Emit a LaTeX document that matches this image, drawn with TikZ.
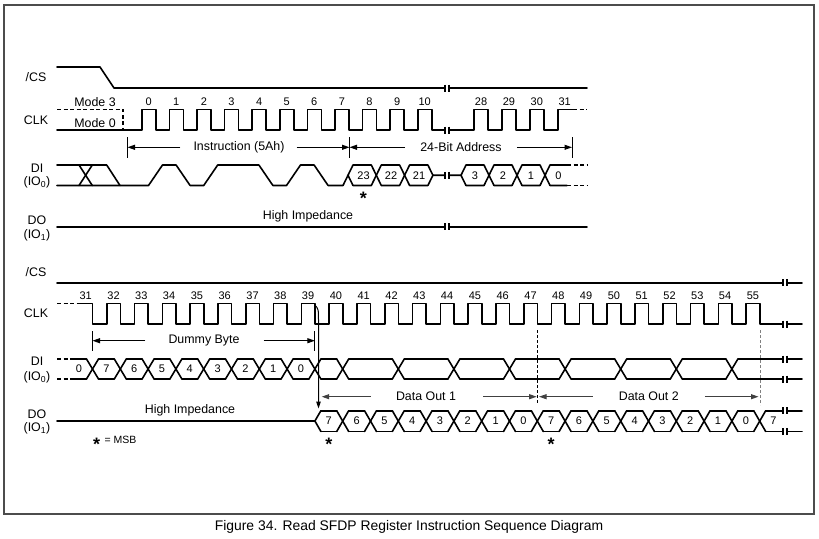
\documentclass[tikz,border=0pt]{standalone}
\usepackage{fontspec}
\setmainfont{Liberation Sans}
\usetikzlibrary{arrows.meta}
\begin{document}
\begin{tikzpicture}[x=1pt,y=-1pt,
  sig/.style={line width=1.6pt, line cap=round, line join=round},
  dsig/.style={line width=1.6pt, dash pattern=on 4pt off 2.5pt},
  brkmark/.style={line width=1.1pt},
  lbl/.style={font=\fontsize{12.4}{14}\selectfont, inner sep=0pt},
  num/.style={font=\fontsize{11}{13}\selectfont, inner sep=0pt},
  small/.style={font=\fontsize{10.5}{12}\selectfont, inner sep=0pt},
  dimline/.style={line width=1pt},
  dimarr/.style={line width=1pt, -{Triangle[length=7.5pt,width=5pt]}},
  grayarr/.style={dimarr, black!75},
  starmark/.style={font=\bfseries\fontsize{18}{18}\selectfont, inner sep=0pt, yshift=-4pt},
]
\useasboundingbox (0,0) rectangle (819,538);
% frame and caption
\draw[line width=2pt, black!70] (3.7,5) rectangle (814,514);
\node[font=\fontsize{13.9}{16}\selectfont, inner sep=0pt] (caption) at (409,527) {Figure 34. Read SFDP Register Instruction Sequence Diagram};

% ================= TOP =================
\node[lbl] (cs1) at (36,77.5) {/CS};
\node[lbl] (clk1) at (36,120) {CLK};
\node[lbl] (di1) at (37,168) {DI};
\node[lbl] (io0a) at (37,182.5) {(IO\textsubscript{0})};
\node[lbl] (do1) at (37,220) {DO};
\node[lbl] (io1a) at (37,235) {(IO\textsubscript{1})};

% /CS
\draw[sig] (57,67) -- (100,67) -- (114,88) -- (445,88);
\draw[sig] (449,88) -- (587,88);

% CLK
\node[lbl] (mode3) at (95,102) {Mode 3};
\node[lbl] (mode0) at (95,123) {Mode 0};
\draw[dsig] (57,109.3) -- (123,109.3) -- (123,130);
\draw[sig] (57,130) foreach \n in {0,...,10} { -- (141.7+27.6*\n,130) -- (141.7+27.6*\n,109.3) -- (155.7+27.6*\n,109.3) -- (155.7+27.6*\n,130) } -- (445,130);
\draw[sig] (449,130) foreach \n in {0,1,2} { -- (474+27.9*\n,130) -- (474+27.9*\n,109.3) -- (488+27.9*\n,109.3) -- (488+27.9*\n,130) } -- (557.7,130) -- (557.7,109.3) -- (573,109.3);
\draw[dsig] (573,109.3) -- (587,109.3);
\foreach \n in {0,...,10} \node[num] (ct\n) at (148.7+27.6*\n,102) {\n};
\foreach \n in {28,...,31} \node[num] (ct\n) at (481+27.9*\n-781.2,102) {\n};

% Instruction / address dimension
\coordinate (ta) at (127.5,147.3);
\coordinate (tb) at (349.5,147.3);
\coordinate (tc) at (572,147.3);
\foreach \c in {ta,tb,tc} \draw[dimline] ([yshift=10.3pt]\c) -- ([yshift=-10.7pt]\c);
\node[lbl] (ins) at (239,147.3) {Instruction (5Ah)};
\node[lbl] (addr) at (461,147.3) {24-Bit Address};
\draw[dimarr] ([xshift=-13pt]ins.west) -- (ta);
\draw[dimarr] ([xshift=12pt]ins.east) -- (tb);
\draw[dimarr] ([xshift=-15pt]addr.west) -- (tb);
\draw[dimarr] ([xshift=15pt]addr.east) -- (tc);

% DI (instruction 5Ah then address)
\draw[sig] (57,165) -- (106.7,165) -- (120,185.5);
\draw[sig] (79,165) -- (92.3,185.5);
\draw[sig] (79,185.5) -- (92.3,165);
\draw[sig] (57,185.5) -- (148.5,185.5) -- (162.5,165) -- (176.1,165) -- (190.1,185.5)
  -- (203.7,185.5) -- (217.7,165) -- (258.9,165) -- (272.9,185.5) -- (286.5,185.5)
  -- (300.5,165) -- (314.1,165) -- (328.1,185.5) -- (343,185.5) -- (353,165)
  -- (371.3,165) -- (381.3,185.5) -- (399.6,185.5) -- (409.6,165) -- (427.9,165)
  -- (432.9,175.25) -- (445,175.25);
\draw[sig] (348,175.25) -- (353,185.5) -- (371.3,185.5) -- (381.3,165) -- (399.6,165)
  -- (409.6,185.5) -- (427.9,185.5) -- (432.9,175.25);
\draw[sig] (449,175.25) -- (461,175.25) -- (466,165) -- (484,165) -- (494,185.5)
  -- (512,185.5) -- (522,165) -- (540,165) -- (550,185.5) -- (567,185.5);
\draw[sig] (461,175.25) -- (466,185.5) -- (484,185.5) -- (494,165) -- (512,165)
  -- (522,185.5) -- (540,185.5) -- (550,165) -- (567,165);
\draw[dsig] (567,165) -- (587,165);
\draw[dsig] (567,185.5) -- (587,185.5);
\node[num] (a23) at (363.5,175.5) {23};
\node[num] (a22) at (391,175.5) {22};
\node[num] (a21) at (419,175.5) {21};
\node[num] (a3) at (475,175.5) {3};
\node[num] (a2) at (503,175.5) {2};
\node[num] (a1) at (531,175.5) {1};
\node[num] (a0) at (558.5,175.5) {0};
\node[starmark] (star1) at (363.3,194) {*};

% DO
\draw[sig] (57,226.7) -- (445,226.7);
\draw[sig] (449,226.7) -- (587,226.7);
\node[lbl] (hiz1) at (308,216.5) {High Impedance};

% top break marks
\foreach \y in {88,130,175.25,226.7} {
  \draw[brkmark] (445,\y-3.5) -- (445,\y+3.5);
  \draw[brkmark] (449,\y-3.5) -- (449,\y+3.5);
}

% ================= BOTTOM =================
\node[lbl] (cs2) at (36,272) {/CS};
\node[lbl] (clk2) at (36,313.3) {CLK};
\node[lbl] (di2) at (37,361.7) {DI};
\node[lbl] (io0b) at (37,377) {(IO\textsubscript{0})};
\node[lbl] (do2) at (37,414) {DO};
\node[lbl] (io1b) at (37,428.5) {(IO\textsubscript{1})};

% /CS
\draw[sig] (57,282.7) -- (783,282.7);
\draw[sig] (787,282.7) -- (802,282.7);

% CLK
\draw[dsig] (57,303.3) -- (78,303.3);
\draw[sig] (78,303.3) -- (92.5,303.3) -- (92.5,324) foreach \n in {32,...,55} { -- (27.8*\n-782.9,324) -- (27.8*\n-782.9,303.3) -- (27.8*\n-769.3,303.3) -- (27.8*\n-769.3,324) } -- (783,324);
\draw[sig] (787,324) -- (802,324);
\foreach \n in {31,...,55} \node[num] (cb\n) at (27.8*\n-776.1,296) {\n};

% Dummy byte dimension
\coordinate (td) at (92.5,340.7);
\coordinate (te) at (314.9,340.7);
\foreach \c in {td,te} \draw[dimline] ([yshift=9.7pt]\c) -- ([yshift=-10pt]\c);
\node[lbl] (dummy) at (204,340.7) {Dummy Byte};
\draw[dimarr] ([xshift=-23pt]dummy.west) -- (td);
\draw[dimarr] ([xshift=24pt]dummy.east) -- (te);

% DI bottom
\draw[dsig] (57,359) -- (72,359);
\draw[dsig] (57,379) -- (72,379);
\foreach \x [remember=\x as \px (initially 66)] in {92.5,120.3,148.1,175.9,203.7,231.5,259.3,287.1,314.9,342.7,398.3,453.9,509.5,565.1,620.7,676.3,731.9} {
  \draw[sig] (\px+6,359) -- (\x-6,359);
  \draw[sig] (\px+6,379) -- (\x-6,379);
  \draw[sig] (\x-6,359) -- (\x+6,379);
  \draw[sig] (\x-6,379) -- (\x+6,359);
}
\draw[sig] (737.9,359) -- (783,359);
\draw[sig] (737.9,379) -- (783,379);
\draw[sig] (787,359) -- (802,359);
\draw[sig] (787,379) -- (802,379);
\node[num] (b0a) at (79,369) {0};
\foreach \lab [count=\i from 0] in {7,6,5,4,3,2,1,0}
  \node[num] (bd\i) at (106.4+27.8*\i,369) {\lab};

% DO bottom
\draw[sig] (57,421) -- (314.9,421) -- (320.9,410.7);
\draw[sig] (314.9,421) -- (320.9,431.5);
\foreach \x [remember=\x as \px (initially 314.9)] in {342.7,370.5,398.3,426.1,453.9,481.7,509.5,537.3,565.1,592.9,620.7,648.5,676.3,704.1,731.9,759.7} {
  \draw[sig] (\px+6,410.7) -- (\x-6,410.7);
  \draw[sig] (\px+6,431.5) -- (\x-6,431.5);
  \draw[sig] (\x-6,410.7) -- (\x+6,431.5);
  \draw[sig] (\x-6,431.5) -- (\x+6,410.7);
}
\draw[sig] (765.7,410.7) -- (783,410.7);
\draw[sig] (765.7,431.5) -- (783,431.5);
\draw[sig] (787,410.7) -- (802,410.7);
\draw[sig] (787,431.5) -- (802,431.5);
\foreach \lab [count=\i from 0] in {7,6,5,4,3,2,1,0,7,6,5,4,3,2,1,0}
  \node[num] (od\i) at (328.8+27.8*\i,421) {\lab};
\node[num] (odlast) at (773.3,421) {7};
\node[lbl] (hiz2) at (190,410.7) {High Impedance};
\node[starmark] (star2) at (328.8,440) {*};
\node[starmark] (star3) at (551.2,440) {*};
\node[starmark] (star4) at (96.7,440) {*};
\node[small, anchor=west] (msb) at (104.5,440) {= MSB};

% bottom break marks
\foreach \y in {282.7,324,359,379,410.7,431.5} {
  \draw[brkmark] (783,\y-3.5) -- (783,\y+3.5);
  \draw[brkmark] (787,\y-3.5) -- (787,\y+3.5);
}

% CLK 39 -> DO arrow
\coordinate (c39) at (314.9,305);
\coordinate (dotop) at (318.5,408.5);
\draw[dimline, -{Triangle[length=7pt,width=4.5pt]}] (c39) .. controls (318.5,309) .. (318.5,322) -- (dotop);

% Data Out dimensions
\coordinate (d1l) at (321.7,396.7);
\coordinate (d1r) at (536.7,396.7);
\coordinate (d2l) at (539,396.7);
\coordinate (d2r) at (758.5,396.7);
\draw[line width=0.8pt, dash pattern=on 3pt off 2pt] (537.3,330) -- (537.3,404);
\draw[line width=0.8pt, black!50, dash pattern=on 3pt off 2pt] (760,330) -- (760,405);
\node[lbl] (dout1) at (426,396.7) {Data Out 1};
\node[lbl] (dout2) at (648.8,396.7) {Data Out 2};
\draw[grayarr] ([xshift=-25pt]dout1.west) -- (d1l);
\draw[grayarr] ([xshift=27pt]dout1.east) -- (d1r);
\draw[grayarr] ([xshift=-26pt]dout2.west) -- (d2l);
\draw[grayarr] ([xshift=26pt]dout2.east) -- (d2r);
\end{tikzpicture}
\end{document}
